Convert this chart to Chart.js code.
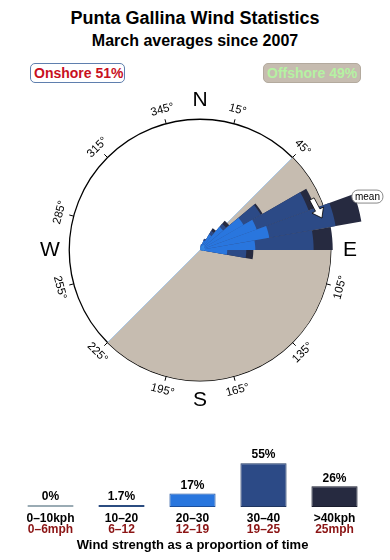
<!DOCTYPE html>
<html lang="en">
<head>
<meta charset="UTF-8">
<title>Punta Gallina Wind Statistics</title>
<script src="https://cdn.jsdelivr.net/npm/chart.js"></script>
<style>
  body {
    margin: 0;
    width: 390px;
    height: 560px;
    position: relative;
    overflow: hidden;
    background: #fff;
    font-family: "Liberation Sans", Arial, sans-serif;
  }
  .title {
    position: absolute;
    left: 0;
    width: 390px;
    text-align: center;
    font-weight: bold;
    color: #000;
    white-space: nowrap;
  }
  #t1 { top: 8px; font-size: 18px; }
  #t2 { top: 32px; font-size: 16px; }
  .tag {
    position: absolute;
    top: 63px;
    height: 20px;
    box-sizing: border-box;
    border-radius: 5px;
    font-size: 14px;
    font-weight: bold;
    line-height: 18px;
    padding-left: 3px;
    white-space: nowrap;
  }
  #onshore { left: 30px; width: 95px; border: 1px solid #5f7fae; color: #c8101e; background: #fff; }
  #offshore { left: 263px; width: 98px; border: 1px solid #b3aa9e; color: #b5f2a2; background: #c6bcb0; }
  canvas { position: absolute; left: 0; }
  #rose { top: 80px; }
  #speeds { top: 440px; }
</style>
</head>
<body>
  <div class="title" id="t1">Punta Gallina Wind Statistics</div>
  <div class="title" id="t2">March averages since 2007</div>
  <div class="tag" id="onshore">Onshore 51%</div>
  <div class="tag" id="offshore">Offshore 49%</div>

  <canvas id="rose" width="390" height="340"></canvas>
  <canvas id="speeds" width="390" height="120"></canvas>

<script>
// direction bins, 10 degrees each, starting at north
const bearings = [0, 10, 20, 30, 40, 50, 60, 70, 80, 90, 100, 110, 120, 130, 140, 150, 160, 170,
                  180, 190, 200, 210, 220, 230, 240, 250, 260, 270, 280, 290, 300, 310, 320, 330, 340, 350];

// rose segment lengths per speed class (outer ring = 100)
const rose10to20 = [0, 2.3, 3.1, 4.6, 4.6, 3.8, 3.8, 3.8, 3.8, 3.1, 0, 0, 0, 0, 0, 0, 0, 0,
                    0, 0, 0, 0, 0, 0, 0, 0, 0, 0, 0, 0, 0, 0, 0, 0, 0, 0];
const rose20to30 = [0, 2.3, 4.6, 9.2, 18.5, 34.6, 42.3, 50, 38.5, 17.7, 0, 0, 0, 0, 0, 0, 0, 0,
                    0, 0, 0, 0, 0, 0, 0, 0, 0, 0, 0, 0, 0, 0, 0, 0, 0, 0];
const rose30to40 = [0, 0, 1.5, 3.1, 3.1, 15.4, 42.3, 51.5, 44.6, 14.6, 0, 0, 0, 0, 0, 0, 0, 0,
                    0, 0, 0, 0, 0, 0, 0, 0, 0, 0, 0, 0, 0, 0, 0, 0, 0, 0];
const roseOver40 = [0, 0, 0, 2.3, 3.1, 1.5, 5.4, 20, 14.6, 5.4, 0, 0, 0, 0, 0, 0, 0, 0,
                    0, 0, 0, 0, 0, 0, 0, 0, 0, 0, 0, 0, 0, 0, 0, 0, 0, 0];

// offshore half: 45 -> 225 degrees
const shadeAngles = [45, 180, 135];
const shadeValues = [0, 100, 0];
const shadeEdges = [45, 225];

const ringValue = 100;
const tickBearings = [15, 45, 105, 135, 165, 195, 225, 255, 285, 315, 345];
const compass = ['N', 'E', 'S', 'W'];
const compassBearings = [0, 90, 180, 270];
const meanBearing = 70;

// speed distribution
const kphLabels = ['0–10kph', '10–20', '20–30', '30–40', '>40kph'];
const mphLabels = ['0–6mph', '6–12', '12–19', '19–25', '25mph'];
const speedShares = [0, 1.7, 17, 55, 26];

const speedColors = ['#aebfc8', '#3a8ee8', '#2976de', '#2c4a86', '#262a40'];
const speedBorders = ['#9aabb4', '#2b4c80', '#1c4f9c', '#1e3560', '#1a1d2e'];

Chart.defaults.font.family = '"Liberation Sans", Arial, sans-serif';

// stack the rose segments
const layers = [rose10to20, rose20to30, rose30to40, roseOver40];
const stacked = [];
let running = bearings.map(() => 0);
layers.forEach(layer => {
  running = running.map((v, i) => v + layer[i]);
  stacked.push(running.slice());
});

const FONT = '"Liberation Sans", Arial, sans-serif';

function polarPos(scale, deg, value) {
  const d = scale.getDistanceFromCenterForValue(value);
  const a = deg * Math.PI / 180;
  return { x: scale.xCenter + d * Math.sin(a), y: scale.yCenter - d * Math.cos(a) };
}

const roseDecor = {
  id: 'roseDecor',
  afterDatasetDraw(chart, args) {
    // thin edge along the offshore boundary, under the bars
    if (args.index !== 4) return;
    const r = chart.scales.r;
    const ctx = chart.ctx;
    ctx.save();
    ctx.strokeStyle = '#a9c7e6';
    ctx.lineWidth = 1;
    ctx.beginPath();
    const a = polarPos(r, shadeEdges[0], ringValue), b = polarPos(r, shadeEdges[1], ringValue);
    ctx.moveTo(a.x, a.y);
    ctx.lineTo(b.x, b.y);
    ctx.stroke();
    ctx.restore();
  },
  afterDraw(chart) {
    const r = chart.scales.r;
    const ctx = chart.ctx;
    const pos = (deg, value) => polarPos(r, deg, value);
    ctx.save();

    // tick marks + degree labels
    ctx.strokeStyle = '#000';
    ctx.lineWidth = 1;
    ctx.fillStyle = '#000';
    ctx.font = '11.5px ' + FONT;
    ctx.textAlign = 'center';
    ctx.textBaseline = 'middle';
    tickBearings.forEach(b => {
      const p0 = pos(b, ringValue), p1 = pos(b, ringValue + 3.5);
      ctx.beginPath();
      ctx.moveTo(p0.x, p0.y);
      ctx.lineTo(p1.x, p1.y);
      ctx.stroke();
      const p = pos(b, 111);
      const rot = (b > 90 && b < 270) ? b - 180 : b;
      ctx.save();
      ctx.translate(p.x, p.y);
      ctx.rotate(rot * Math.PI / 180);
      ctx.fillText(b + '°', 0, 0);
      ctx.restore();
    });

    // compass letters
    ctx.font = '21px ' + FONT;
    compass.forEach((c, i) => {
      const p = pos(compassBearings[i], 114.7);
      ctx.fillText(c, p.x, p.y);
    });

    // mean arrow
    const tail = pos(meanBearing - 4.5, 94);
    const tip = pos(meanBearing + 5.3, 96.4);
    let ux = tip.x - tail.x, uy = tip.y - tail.y;
    const len = Math.hypot(ux, uy);
    ux /= len; uy /= len;
    const nx = -uy, ny = ux;
    const hx = tip.x - ux * 9, hy = tip.y - uy * 9;
    ctx.beginPath();
    ctx.moveTo(tail.x + nx * 2.5, tail.y + ny * 2.5);
    ctx.lineTo(hx + nx * 2.5, hy + ny * 2.5);
    ctx.lineTo(hx + nx * 6.5, hy + ny * 6.5);
    ctx.lineTo(tip.x, tip.y);
    ctx.lineTo(hx - nx * 6.5, hy - ny * 6.5);
    ctx.lineTo(hx - nx * 2.5, hy - ny * 2.5);
    ctx.lineTo(tail.x - nx * 2.5, tail.y - ny * 2.5);
    ctx.closePath();
    ctx.fillStyle = '#fff';
    ctx.fill();
    ctx.strokeStyle = '#000';
    ctx.lineWidth = 0.8;
    ctx.stroke();

    // mean label
    const m = pos(meanBearing + 2.3, 134.4);
    ctx.beginPath();
    ctx.roundRect(m.x - 15.5, m.y - 6.5, 31, 13, 6);
    ctx.fillStyle = '#fff';
    ctx.fill();
    ctx.strokeStyle = '#888';
    ctx.lineWidth = 1;
    ctx.stroke();
    ctx.fillStyle = '#000';
    ctx.font = '10px ' + FONT;
    ctx.fillText('mean', m.x, m.y + 0.5);

    ctx.restore();
  }
};

new Chart(document.getElementById('rose'), {
  type: 'polarArea',
  data: {
    labels: bearings.map(b => b + '°'),
    datasets: [
      { label: '10–20kph', data: stacked[0], backgroundColor: speedColors[1] },
      { label: '20–30kph', data: stacked[1], backgroundColor: speedColors[2] },
      { label: '30–40kph', data: stacked[2], backgroundColor: speedColors[3] },
      { label: '>40kph', data: stacked[3], backgroundColor: speedColors[4] },
      { label: 'Offshore', data: shadeValues, angle: c => shadeAngles[c.dataIndex], backgroundColor: '#c6bcb0' }
    ]
  },
  options: {
    responsive: false,
    animation: false,
    layout: { padding: { left: 10 } },
    elements: { arc: { borderWidth: 0 } },
    plugins: { legend: { display: false }, tooltip: { enabled: false } },
    scales: {
      r: {
        min: 0,
        max: 130,
        startAngle: 0,
        z: 1,
        ticks: { display: false },
        angleLines: { display: false },
        pointLabels: { display: false },
        grid: {
          color: c => (c.tick && c.tick.value === ringValue) ? '#000' : 'rgba(0,0,0,0)',
          lineWidth: 1.3
        },
        afterBuildTicks: s => { s.ticks = [{ value: 0 }, { value: ringValue }, { value: 130 }]; }
      }
    }
  },
  plugins: [roseDecor]
});

// percentages above the bars, mph line under the kph tick labels
const speedText = {
  id: 'speedText',
  afterDraw(chart) {
    const ctx = chart.ctx;
    const meta = chart.getDatasetMeta(0);
    const x = chart.scales.x;
    ctx.save();
    ctx.font = 'bold 12px ' + FONT;
    ctx.textAlign = 'center';
    ctx.textBaseline = 'middle';
    ctx.fillStyle = '#000';
    meta.data.forEach((bar, i) => {
      ctx.fillText(speedShares[i] + '%', bar.x, bar.y - 8);
    });
    ctx.fillStyle = '#8b1414';
    mphLabels.forEach((t, i) => {
      ctx.fillText(t, x.getPixelForTick(i), x.top + 23);
    });
    ctx.restore();
  }
};

new Chart(document.getElementById('speeds'), {
  type: 'bar',
  data: {
    labels: kphLabels,
    datasets: [{
      data: speedShares,
      backgroundColor: speedColors,
      borderColor: speedBorders,
      borderWidth: 1,
      borderSkipped: false,
      minBarLength: 2,
      barPercentage: 0.65,
      categoryPercentage: 1
    }]
  },
  options: {
    responsive: false,
    animation: false,
    layout: { padding: { left: 15, right: 20, top: 0, bottom: 0 } },
    plugins: { legend: { display: false }, tooltip: { enabled: false } },
    scales: {
      x: {
        offset: true,
        grid: { display: false, drawTicks: false },
        border: { display: false },
        ticks: { color: '#000', font: { weight: 'bold', size: 12, lineHeight: 1 }, padding: 6, maxRotation: 0, autoSkip: false },
        title: {
          display: true,
          text: 'Wind strength as a proportion of time',
          color: '#000',
          font: { weight: 'bold', size: 13 },
          padding: { top: 6.2, bottom: 7.2 }
        }
      },
      y: { display: false, min: 0, max: 84 }
    }
  },
  plugins: [speedText]
});
</script>
</body>
</html>
